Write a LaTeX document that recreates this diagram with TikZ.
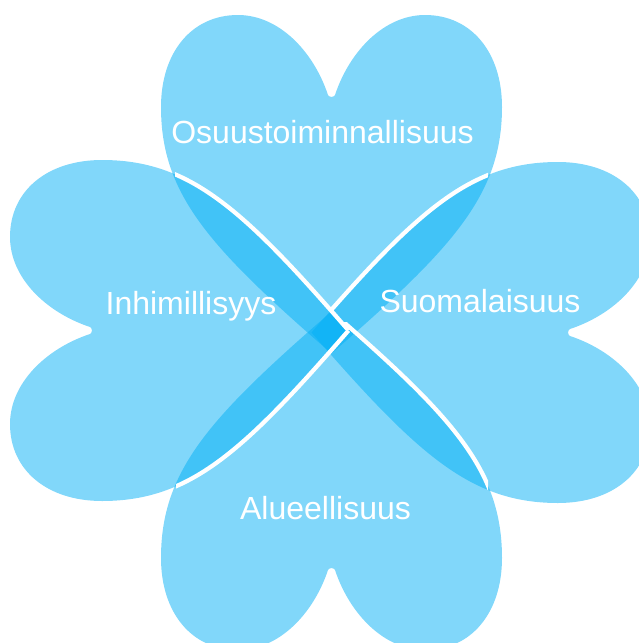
\documentclass[tikz,border=0pt]{standalone}
\usepackage{fontspec}
\setmainfont{Liberation Sans}
\definecolor{petal}{HTML}{03AFF5}
\tikzset{
  petalfill/.style={fill=petal,fill opacity=.5,draw=none},
  seam/.style={draw=white,line width=4.2pt},
  lab/.style={text=white,font=\fontsize{32}{36}\selectfont,anchor=base,inner sep=0pt}
}
\newcommand{\heartpath}{(0,21) .. controls (122,-85) and (170.5,-138) .. (170.5,-225.5)
  .. controls (170.5,-280) and (140,-317.5) .. (93.5,-317.5)
  .. controls (53.5,-317.5) and (18.5,-282.5) .. (3.5,-237.5)
  .. controls (2.5,-235) and (-2.5,-235) .. (-3.5,-237.5)
  .. controls (-18.5,-282.5) and (-53.5,-317.5) .. (-93.5,-317.5)
  .. controls (-140,-317.5) and (-170.5,-280) .. (-170.5,-225.5)
  .. controls (-170.5,-138) and (-122,-85) .. (0,21) -- cycle}
\newcommand{\edgeR}{(0,21) .. controls (122,-85) and (170.5,-138) .. (170.5,-225.5)}
\newcommand{\edgeL}{(0,21) .. controls (-122,-85) and (-170.5,-138) .. (-170.5,-225.5)}
\begin{document}
\begin{tikzpicture}[x=1pt,y=-1pt]
\useasboundingbox (0,0) rectangle (639,643);
\clip (0,0) rectangle (639,643);
% petals
\fill[petalfill,shift={(331.5,332.5)}] \heartpath;
\fill[petalfill,shift={(331.5,332.5)},rotate=180] \heartpath;
\fill[petalfill,shift={(327.5,330.5)},rotate=90] \heartpath;
\fill[petalfill,shift={(332.5,332.5)},rotate=-90] \heartpath;
% seams
\begin{scope}
\clip (175,170) rectangle (349,334);
\draw[seam,shift={(327.5,330.5)},rotate=90] \edgeR;
\end{scope}
\begin{scope}
\clip (331,170) rectangle (488,311);
\draw[seam,shift={(332.5,332.5)},rotate=-90] \edgeL;
\end{scope}
\begin{scope}
\clip (176,331) rectangle (352,490);
\draw[seam,shift={(327.5,330.5)},rotate=90] \edgeL;
\end{scope}
\begin{scope}
\clip (344,322) rectangle (488,489);
\draw[seam,shift={(331.5,332.5)},rotate=180] \edgeL;
\end{scope}
% labels
\node[lab] (osuus) at (322.5,143) {Osuustoiminnallisuus};
\node[lab] (suomi) at (480,312.5) {Suomalaisuus};
\node[lab] (inhim) at (191,314.5) {Inhimillisyys};
\node[lab] (alue) at (325.5,519) {Alueellisuus};
\end{tikzpicture}
\end{document}
